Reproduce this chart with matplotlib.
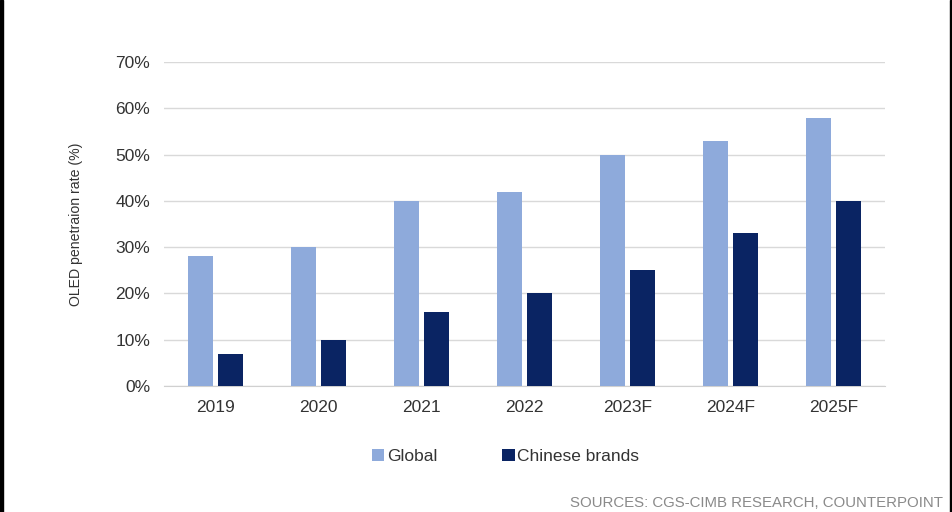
import matplotlib
matplotlib.use("Agg")
import matplotlib.pyplot as plt
import numpy as np
from matplotlib.patches import Rectangle

plt.rcParams["font.family"] = ["Liberation Sans", "DejaVu Sans"]

years = ["2019", "2020", "2021", "2022", "2023F", "2024F", "2025F"]
global_rate = [28, 30, 40, 42, 50, 53, 58]
chinese_rate = [7, 10, 16, 20, 25, 33, 40]
y_ticks = [0, 10, 20, 30, 40, 50, 60, 70]

C_GLOBAL = "#8eaadb"
C_CHINA = "#0a2463"

fig = plt.figure(figsize=(9.53, 5.12), dpi=100)
fig.patch.set_facecolor("white")
ax = fig.add_axes([164 / 953, 1 - 386 / 512, (885 - 164) / 953, (386 - 62) / 512])

x = np.arange(len(years))
w = 0.245
gap = 0.02
ax.bar(x - w / 2 - gap, global_rate, w, color=C_GLOBAL, label="Global", zorder=3)
ax.bar(x + w / 2 + gap, chinese_rate, w, color=C_CHINA, label="Chinese brands", zorder=3)

ax.set_xlim(-0.5, len(years) - 0.5)
ax.set_ylim(0, 70)
ax.set_yticks(y_ticks)
ax.set_yticklabels([f"{v}%" for v in y_ticks])
ax.set_xticks(x)
ax.set_xticklabels(years)
ax.yaxis.grid(True, color="#d9d9d9", linewidth=1, zorder=0)
ax.set_axisbelow(True)
for s in ["top", "right", "left"]:
    ax.spines[s].set_visible(False)
ax.spines["bottom"].set_color("#d0d0d0")
ax.tick_params(axis="both", length=0, labelsize=12.5, colors="#333333")
ax.tick_params(axis="y", pad=10)
ax.tick_params(axis="x", pad=10)
ax.set_ylabel("OLED penetraion rate (%)", fontsize=10.2, color="#333333", labelpad=23)

ax.legend(loc="upper center", bbox_to_anchor=(0.474, -0.145), ncol=2, frameon=False,
          fontsize=12.5, handlelength=0.7, handleheight=0.7, handletextpad=0.15,
          columnspacing=3.75, labelcolor="#333333")

fig.text(943 / 953, 1 - 503 / 512, "SOURCES: CGS-CIMB RESEARCH, COUNTERPOINT",
         ha="right", va="center", fontsize=10.8, color="#8a8a8a")

# dark frame edges at the left and right sides of the image
fig.patches.append(Rectangle((0, 0), 3 / 953, 1, transform=fig.transFigure,
                             color="black", zorder=10))
fig.patches.append(Rectangle((950 / 953, 0), 3 / 953, 1, transform=fig.transFigure,
                             color="black", zorder=10))

fig.savefig("out.png", dpi=100)
